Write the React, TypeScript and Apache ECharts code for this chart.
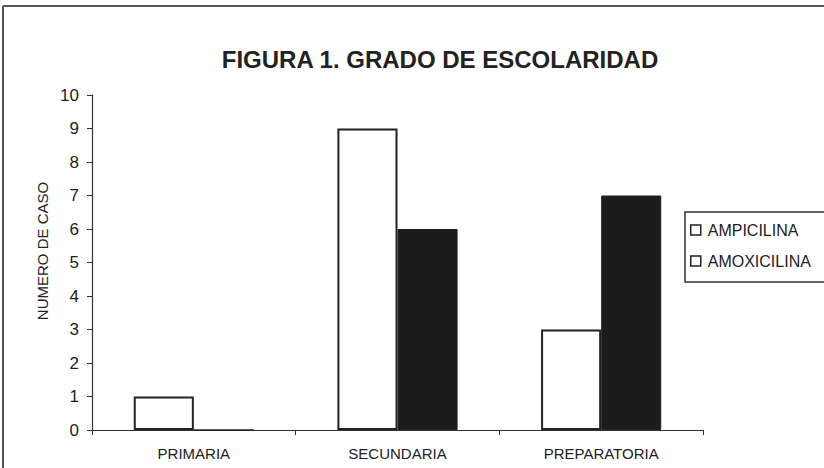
import React, { useEffect, useRef } from "react";
import * as echarts from "echarts";

const categories = ["PRIMARIA", "SECUNDARIA", "PREPARATORIA"];
const ampicilina = [1, 9, 3];
const amoxicilina = [0, 6, 7];
const seriesNames = ["AMPICILINA", "AMOXICILINA"];
const titleText = "FIGURA 1. GRADO DE ESCOLARIDAD";
const yAxisName = "NUMERO DE CASO";

const FONT = "'Liberation Sans', Arial, sans-serif";
const INK = "#222";

export default function App() {
  const ref = useRef<HTMLDivElement>(null);
  useEffect(() => {
    if (!ref.current) return;
    const chart = echarts.init(ref.current, undefined, { renderer: "svg" });
    chart.setOption({
      animation: false,
      backgroundColor: "#fff",
      textStyle: { fontFamily: FONT, color: INK },
      title: {
        text: titleText,
        left: 435,
        textAlign: "center",
        top: 42,
        textStyle: { fontFamily: FONT, fontSize: 24, fontWeight: "bold", color: INK },
      },
      grid: { left: 92, right: 121, top: 95, bottom: 38 },
      legend: {
        orient: "vertical",
        left: 690,
        top: 222,
        padding: 0,
        itemWidth: 10,
        itemHeight: 10,
        itemGap: 15,
        icon: "rect",
        textStyle: { fontFamily: FONT, fontSize: 16, color: INK, padding: [0, 0, 0, 2] },
        data: seriesNames.map((n) => ({
          name: n,
          itemStyle: { color: "#fff", borderColor: INK, borderWidth: 1.5 },
        })),
      },
      xAxis: {
        type: "category",
        data: categories,
        axisLine: { lineStyle: { color: "#333", width: 1.2 } },
        axisTick: { show: true, length: 5, lineStyle: { color: "#333" } },
        axisLabel: { fontFamily: FONT, fontSize: 15, color: INK, margin: 16 },
      },
      yAxis: {
        type: "value",
        min: 0,
        max: 10,
        interval: 1,
        splitLine: { show: false },
        axisLine: { show: true, lineStyle: { color: "#333", width: 1.2 } },
        axisTick: { show: true, length: 5, lineStyle: { color: "#333" } },
        axisLabel: { fontFamily: FONT, fontSize: 17, color: INK, margin: 13 },
      },
      series: [
        {
          name: seriesNames[0],
          type: "bar",
          data: ampicilina,
          barGap: "0%",
          barCategoryGap: "41%",
          itemStyle: { color: "#fff", borderColor: INK, borderWidth: 2 },
        },
        {
          name: seriesNames[1],
          type: "bar",
          data: amoxicilina,
          itemStyle: { color: "#1c1c1c", borderColor: INK, borderWidth: 1 },
        },
      ],
      graphic: [
        {
          type: "text",
          x: 42,
          y: 251,
          rotation: Math.PI / 2,
          style: {
            text: yAxisName,
            fontFamily: FONT,
            fontSize: 15,
            fill: INK,
            align: "center",
            verticalAlign: "middle",
          },
        },
        {
          type: "line",
          shape: { x1: 3, y1: 6, x2: 824, y2: 6 },
          style: { stroke: "#555", lineWidth: 2 },
        },
        {
          type: "line",
          shape: { x1: 3, y1: 6, x2: 3, y2: 468 },
          style: { stroke: "#555", lineWidth: 2 },
        },
        {
          type: "rect",
          shape: { x: 685, y: 212, width: 200, height: 70 },
          style: { fill: "none", stroke: "#333", lineWidth: 1.5 },
          z: -1,
        },
      ],
    });
    return () => chart.dispose();
  }, []);
  return <div ref={ref} style={{ width: 824, height: 468, position: "absolute", left: 0, top: 0 }} />;
}
